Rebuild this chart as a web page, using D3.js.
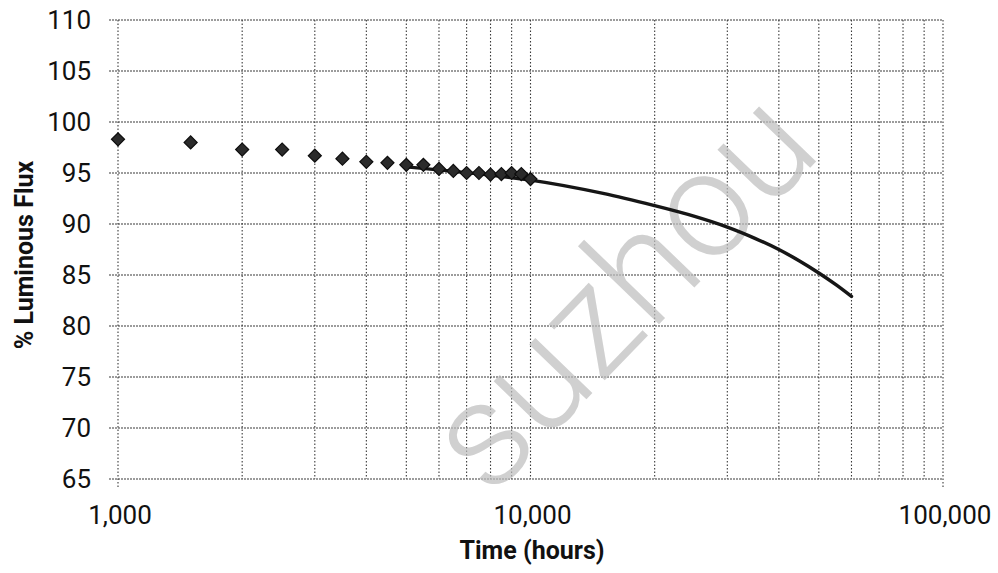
<!DOCTYPE html>
<html>
<head>
<meta charset="utf-8">
<script src="https://cdn.jsdelivr.net/npm/d3@7"></script>
<style>
  html, body { margin: 0; padding: 0; background: #fff; }
  svg { display: block; }
  text { font-family: Roboto, "Liberation Sans", Arial, sans-serif; fill: #111; }
</style>
</head>
<body>
<div id="chart"></div>
<script>
// ---- data ----
const hours = [1000, 1500, 2000, 2500, 3000, 3500, 4000, 4500, 5000, 5500,
               6000, 6500, 7000, 7500, 8000, 8500, 9000, 9500, 10000];
const flux  = [98.3, 98.0, 97.3, 97.3, 96.7, 96.4, 96.1, 96.0, 95.8, 95.8,
               95.4, 95.2, 95.0, 95.0, 94.85, 94.9, 95.0, 94.9, 94.4];

const projHours = [5000, 10000, 15000, 20000, 25000, 30000, 35000, 40000, 45000, 50000, 55000, 60000];
const projFlux  = [95.6, 94.3, 93.0, 91.8, 90.75, 89.7, 88.6, 87.5, 86.35, 85.2, 84.05, 82.9];

const yTicks = [65, 70, 75, 80, 85, 90, 95, 100, 105, 110];
const xLabelTicks = [1000, 10000, 100000];
const xTitle = "Time (hours)";
const yTitle = "% Luminous Flux";
const watermark = "suzhou";

// ---- layout ----
const W = 998, H = 573;
const pLeft = 118, pRight = 943, pTop = 20, pBottom = 479;

const svg = d3.select("#chart").append("svg")
  .attr("width", W).attr("height", H);

const x = d3.scaleLog().domain([1000, 100000]).range([pLeft, pRight]);
const y = d3.scaleLinear().domain([65, 110]).range([pBottom, pTop]);

// grid: horizontal
const gridColor = "#3a3a3a";
svg.append("g").selectAll("line").data(yTicks).join("line")
  .attr("x1", pLeft - 9).attr("x2", pRight)
  .attr("y1", d => y(d)).attr("y2", d => y(d))
  .attr("stroke", gridColor).attr("stroke-width", 1.2)
  .attr("stroke-dasharray", "2,1");

// grid: vertical (every log minor tick)
const vTicks = x.ticks();
svg.append("g").selectAll("line").data(vTicks).join("line")
  .attr("x1", d => x(d)).attr("x2", d => x(d))
  .attr("y1", pTop).attr("y2", d => (d === 1000 || d === 100000) ? pBottom + 9 : pBottom)
  .attr("stroke", gridColor).attr("stroke-width", 1.1)
  .attr("stroke-dasharray", "1.5,2");

// watermark
svg.append("text")
  .attr("transform", "translate(628,298) rotate(-46)")
  .attr("text-anchor", "middle")
  .attr("dy", "0.27em")
  .style("font-size", "150px")
  .style("font-weight", 300)
  .style("fill", "#bdbdbd")
  .style("opacity", 0.7)
  .text(watermark);

// projection / fit line
const line = d3.line()
  .x((d, i) => x(projHours[i]))
  .y(d => y(d))
  .curve(d3.curveCatmullRom);
svg.append("path")
  .datum(projFlux)
  .attr("d", line)
  .attr("fill", "none")
  .attr("stroke", "#161616")
  .attr("stroke-width", 3.5)
  .attr("stroke-linecap", "round");

// markers (diamonds)
const diamond = d3.symbol().type(d3.symbolSquare).size(85);
svg.append("g").selectAll("path").data(flux).join("path")
  .attr("d", diamond)
  .attr("transform", (d, i) => `translate(${x(hours[i])},${y(d)}) rotate(45)`)
  .attr("fill", "#2b2b2b")
  .attr("stroke", "#0d0d0d")
  .attr("stroke-width", 1.2);

// y tick labels
svg.append("g").selectAll("text").data(yTicks).join("text")
  .attr("x", 91).attr("y", d => y(d))
  .attr("dy", "0.36em")
  .attr("text-anchor", "end")
  .style("font-size", "26px")
  .text(d => d);

// x tick labels
const fmt = d3.format(",");
svg.append("g").selectAll("text").data(xLabelTicks).join("text")
  .attr("x", d => x(d) + 2).attr("y", 524)
  .attr("text-anchor", "middle")
  .style("font-size", "26px")
  .text(d => fmt(d));

// axis titles
svg.append("text")
  .attr("x", 532).attr("y", 559)
  .attr("text-anchor", "middle")
  .style("font-size", "25px").style("font-weight", "bold")
  .text(xTitle);

svg.append("text")
  .attr("transform", "translate(33,255) rotate(-90)")
  .attr("text-anchor", "middle")
  .style("font-size", "25px").style("font-weight", "bold")
  .text(yTitle);
</script>
</body>
</html>
